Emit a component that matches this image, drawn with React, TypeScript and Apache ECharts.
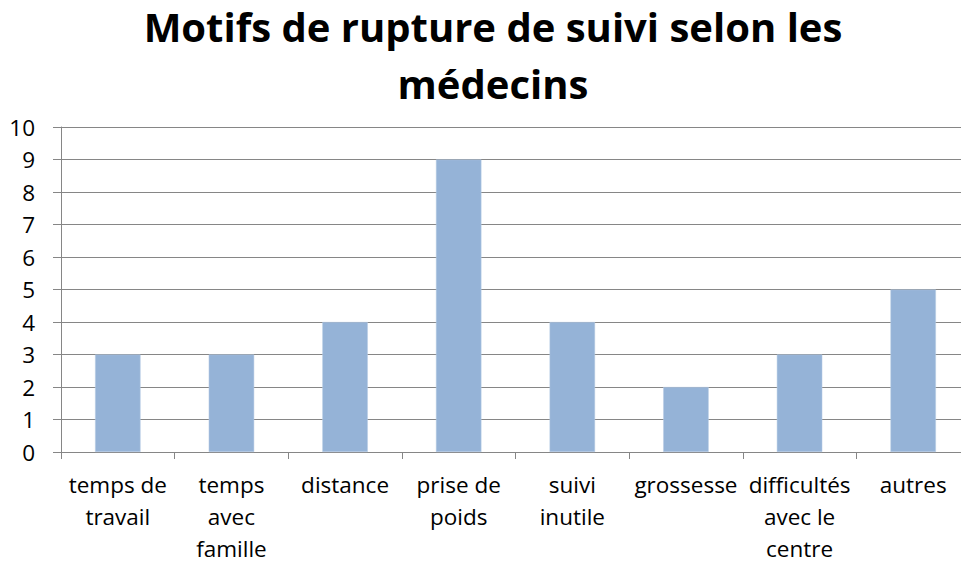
import React, { useEffect, useRef } from "react";
import * as echarts from "echarts";

const titleLines = ["Motifs de rupture de suivi selon les", "médecins"];
const categories = [
  "temps de travail",
  "temps avec famille",
  "distance",
  "prise de poids",
  "suivi inutile",
  "grossesse",
  "difficultés avec le centre",
  "autres",
];
const categoryLabels = [
  "temps de\ntravail",
  "temps\navec\nfamille",
  "distance",
  "prise de\npoids",
  "suivi\ninutile",
  "grossesse",
  "difficultés\navec le\ncentre",
  "autres",
];
const values = [3, 3, 4, 9, 4, 2, 3, 5];
const yTicks = { min: 0, max: 10, interval: 1 };

export default function App() {
  const ref = useRef<HTMLDivElement>(null);
  useEffect(() => {
    document.body.style.margin = "0";
    document.body.style.overflow = "hidden";
    document.documentElement.style.overflow = "hidden";
    const chart = echarts.init(ref.current!, null, { renderer: "svg" });
    const font = "'Open Sans', 'Liberation Sans', sans-serif";
    chart.setOption({
      animation: false,
      backgroundColor: "#ffffff",
      title: {
        text: titleLines.join("\n"),
        left: 488,
        textAlign: "center",
        top: -7,
        textStyle: {
          fontFamily: font,
          fontWeight: "bold",
          fontSize: 40,
          lineHeight: 57,
          color: "#000000",
        },
      },
      grid: { left: 61, right: 0, top: 127, bottom: 109, containLabel: false },
      xAxis: {
        type: "category",
        data: categories,
        axisLine: { show: true, lineStyle: { color: "#868686", width: 1 } },
        axisTick: { show: true, length: 7, lineStyle: { color: "#868686" } },
        axisLabel: {
          interval: 0,
          margin: 16,
          fontFamily: font,
          fontSize: 22.5,
          lineHeight: 32,
          color: "#000000",
          formatter: (_v: string, i: number) => categoryLabels[i],
        },
        splitLine: { show: false },
      },
      yAxis: {
        type: "value",
        min: yTicks.min,
        max: yTicks.max,
        interval: yTicks.interval,
        axisLine: { show: true, lineStyle: { color: "#868686", width: 1 } },
        axisTick: { show: true, length: 8, lineStyle: { color: "#868686" } },
        axisLabel: {
          margin: 26,
          fontFamily: font,
          fontSize: 22.5,
          color: "#000000",
        },
        splitLine: { show: true, lineStyle: { color: "#868686", width: 1 } },
      },
      series: [
        {
          type: "bar",
          data: values,
          barWidth: "40%",
          itemStyle: { color: "#95B3D7", borderColor: "#B9CDE5", borderWidth: 0.5 },
        },
      ],
    });
    return () => chart.dispose();
  }, []);
  return (
    <div style={{ width: 961, height: 564, overflow: "hidden", position: "relative" }}>
      <div ref={ref} style={{ width: 970, height: 564, position: "absolute", left: 0, top: 0 }} />
    </div>
  );
}
